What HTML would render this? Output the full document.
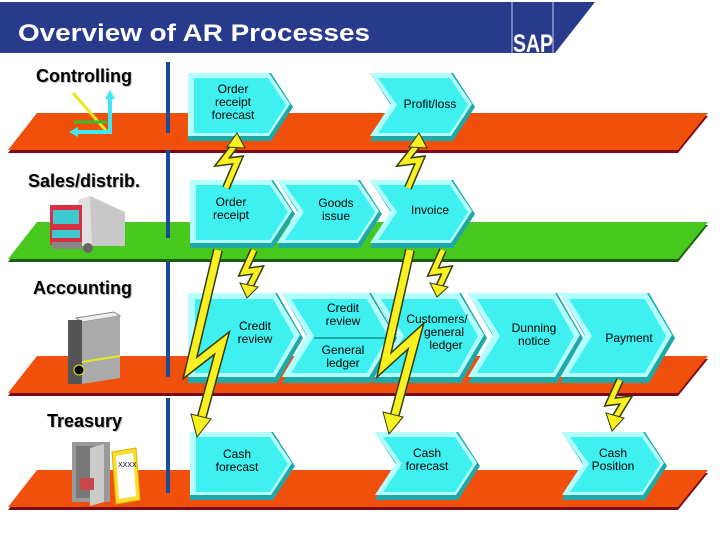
<!DOCTYPE html>
<html><head><meta charset="utf-8"><style>
html,body{margin:0;padding:0;background:#fff;width:720px;height:540px;overflow:hidden}
svg{display:block}
text{font-family:"Liberation Sans",Arial,sans-serif}
.t{font-size:12px;fill:#000;text-anchor:middle}
.lab{font-size:18px;font-weight:bold;fill:#000}
.ls{font-size:18px;font-weight:bold;fill:#bbb}
</style></head><body>
<svg width="720" height="540" viewBox="0 0 720 540" xmlns="http://www.w3.org/2000/svg">
<defs>
<g id="sN">
<polygon points="0,0 83,0 105,34 83,68 0,68 22,34" fill="#1fa8a8"/>
<polygon points="0,0 81,0 102,31 81,63 0,63 21,31" fill="#b4ffff"/>
<polygon points="8,5 80,5 98,32 80,60 8,60 27,32" fill="#3ef0f0"/>
</g>
<g id="sF">
<polygon points="0,0 83,0 105,34 83,68 0,68" fill="#1fa8a8"/>
<polygon points="0,0 81,0 102,31 81,63 0,63" fill="#b4ffff"/>
<polygon points="6,5 80,5 98,32 80,60 6,60" fill="#3ef0f0"/>
</g>
<g id="lN">
<polygon points="0,0 89,0 115,45 89,90 0,90 26,45" fill="#1fa8a8"/>
<polygon points="0,0 87,0 112,42 87,84 0,84 25,42" fill="#b4ffff"/>
<polygon points="9,6 85,6 106,43 85,80 9,80 32,43" fill="#3ef0f0"/>
</g>
<g id="lF">
<polygon points="0,0 89,0 115,45 89,90 0,90" fill="#1fa8a8"/>
<polygon points="0,0 87,0 112,42 87,84 0,84" fill="#b4ffff"/>
<polygon points="7,6 85,6 106,43 85,80 7,80" fill="#3ef0f0"/>
</g>
</defs>

<!-- header -->
<polygon points="0,2 595,2 555,53 0,53" fill="#283a8c"/>
<line x1="512" y1="2" x2="512" y2="53" stroke="#c8cce8" stroke-width="1"/>
<line x1="553" y1="2" x2="553" y2="53" stroke="#c8cce8" stroke-width="1"/>
<text x="513" y="52" font-size="25" font-weight="bold" fill="#fff" textLength="40" lengthAdjust="spacingAndGlyphs">SAP</text>
<text x="18" y="41" font-size="24" font-weight="bold" fill="#fff" textLength="352" lengthAdjust="spacingAndGlyphs">Overview of AR Processes</text>

<!-- bands -->
<polygon points="37,116 708,116 678,153 8,153" fill="#7a0a14"/>
<polygon points="37,113 708,113 678,150 8,150" fill="#f0500c"/>
<polygon points="37,225 708,225 678,262 8,262" fill="#1a6010"/>
<polygon points="37,222 708,222 678,259 8,259" fill="#48c81c"/>
<polygon points="37,359 708,359 678,396 8,396" fill="#7a0a14"/>
<polygon points="37,356 708,356 678,393 8,393" fill="#f0500c"/>
<polygon points="37,473 708,473 678,510 8,510" fill="#7a0a14"/>
<polygon points="37,470 708,470 678,507 8,507" fill="#f0500c"/>

<!-- vertical line -->
<g fill="#1a4a9a">
<rect x="166" y="62" width="4" height="71"/>
<rect x="166" y="150" width="4" height="88"/>
<rect x="166" y="262" width="4" height="115"/>
<rect x="166" y="398" width="4" height="95"/>
</g>

<!-- labels -->
<text class="ls" x="37" y="83">Controlling</text><text class="lab" x="36" y="82">Controlling</text>
<text class="ls" x="29" y="188">Sales/distrib.</text><text class="lab" x="28" y="187">Sales/distrib.</text>
<text class="ls" x="34" y="295">Accounting</text><text class="lab" x="33" y="294">Accounting</text>
<text class="ls" x="48" y="428">Treasury</text><text class="lab" x="47" y="427">Treasury</text>

<!-- controlling icon -->
<line x1="73" y1="93" x2="108" y2="133" stroke="#e8e820" stroke-width="3"/>
<line x1="74" y1="122" x2="107" y2="122" stroke="#30c030" stroke-width="3"/>
<polyline points="110,96 110,132 74,132" fill="none" stroke="#40e8f0" stroke-width="4"/>
<polygon points="105,99 110,90 115,99" fill="#40e8f0"/>
<polygon points="78,127 69,132 78,137" fill="#40e8f0"/>

<!-- truck -->
<polygon points="78,200 90,196 125,212 125,246 85,246" fill="#c8c8c8"/>
<polygon points="78,200 90,196 92,246 80,246" fill="#e0e0e0"/>
<rect x="50" y="205" width="32" height="40" fill="#d83040"/>
<rect x="53" y="210" width="26" height="14" fill="#40c8d0"/>
<rect x="52" y="230" width="28" height="8" fill="#40c8d0"/>
<rect x="52" y="242" width="30" height="7" fill="#888"/>
<circle cx="88" cy="248" r="5" fill="#666"/>

<!-- book -->
<polygon points="76,318 114,312 120,316 82,322" fill="#eee" stroke="#888" stroke-width="1"/>
<rect x="68" y="320" width="14" height="64" fill="#555"/>
<polygon points="82,322 120,316 120,378 82,384" fill="#aaa"/>
<line x1="82" y1="362" x2="120" y2="356" stroke="#e8e820" stroke-width="2"/>
<circle cx="79" cy="370" r="5" fill="#000" stroke="#e8e820" stroke-width="1"/>

<!-- safe -->
<rect x="72" y="442" width="38" height="60" fill="#999"/>
<rect x="76" y="446" width="22" height="52" fill="#777"/>
<polygon points="90,448 104,444 104,502 90,506" fill="#ccc"/>
<rect x="80" y="478" width="14" height="12" fill="#c84848"/>
<polygon points="112,452 136,448 140,500 116,504" fill="#f8e030" stroke="#e0b000" stroke-width="1"/>
<polygon points="116,456 133,453 136,496 119,499" fill="#fff"/>
<text x="118" y="467" font-size="7" fill="#000">XXXX</text>

<!-- chevrons -->
<use href="#sF" x="188" y="73"/>
<use href="#sN" x="370" y="73"/>
<use href="#sF" x="190" y="180"/>
<use href="#sN" x="277" y="180"/>
<use href="#sN" x="370" y="180"/>
<use href="#lN" x="560" y="293"/>
<use href="#lN" x="468" y="293"/>
<use href="#lN" x="372" y="293"/>
<use href="#lN" x="282" y="293"/>
<use href="#lF" x="188" y="293"/>
<line x1="314" y1="338" x2="390" y2="338" stroke="#1fa8a8" stroke-width="2"/>
<use href="#sF" x="190" y="432"/>
<use href="#sN" x="375" y="432"/>
<use href="#sN" x="562" y="432"/>

<!-- chevron text -->
<text class="t" x="233" y="93">Order</text><text class="t" x="233" y="106">receipt</text><text class="t" x="233" y="119">forecast</text>
<text class="t" x="430" y="108">Profit/loss</text>
<text class="t" x="231" y="206">Order</text><text class="t" x="231" y="219">receipt</text>
<text class="t" x="336" y="207">Goods</text><text class="t" x="336" y="220">issue</text>
<text class="t" x="430" y="214">Invoice</text>
<text class="t" x="255" y="330">Credit</text><text class="t" x="255" y="343">review</text>
<text class="t" x="343" y="312">Credit</text><text class="t" x="343" y="325">review</text>
<text class="t" x="343" y="354">General</text><text class="t" x="343" y="367">ledger</text>
<text class="t" x="437" y="323">Customers/</text><text class="t" x="444" y="336">general</text><text class="t" x="446" y="349">ledger</text>
<text class="t" x="534" y="332">Dunning</text><text class="t" x="534" y="345">notice</text>
<text class="t" x="629" y="342">Payment</text>
<text class="t" x="237" y="458">Cash</text><text class="t" x="237" y="471">forecast</text>
<text class="t" x="427" y="457">Cash</text><text class="t" x="427" y="470">forecast</text>
<text class="t" x="613" y="457">Cash</text><text class="t" x="613" y="470">Position</text>

<!-- lightning bolts -->
<g fill="none" stroke-linejoin="miter">
<g stroke="#3a3a10" stroke-width="8">
<path d="M226,188 L238,160 L222,162 L236,144"/>
<path d="M408,188 L420,160 L404,162 L418,144"/>
<path d="M254,250 L244,272 L258,270 L249,288"/>
<path d="M443,250 L433,272 L447,270 L439,287"/>
<path d="M620,380 L610,402 L626,400 L615,418"/>
</g>
<g stroke="#3a3a10" stroke-width="10">
<path d="M218,250 L190,368 L222,343 L201,420"/>
<path d="M410,250 L384,365 L416,336 L394,418"/>
</g>
<g stroke="#f8f020" stroke-width="5">
<path d="M226,188 L238,160 L222,162 L236,144"/>
<path d="M408,188 L420,160 L404,162 L418,144"/>
<path d="M254,250 L244,272 L258,270 L249,288"/>
<path d="M443,250 L433,272 L447,270 L439,287"/>
<path d="M620,380 L610,402 L626,400 L615,418"/>
</g>
<g stroke="#f8f020" stroke-width="7">
<path d="M218,250 L190,368 L222,343 L201,420"/>
<path d="M410,250 L384,365 L416,336 L394,418"/>
</g>
</g>
<g fill="#f8f020" stroke="#3a3a10" stroke-width="1">
<polygon points="227,147 245,148 237,133"/>
<polygon points="409,147 427,148 419,133"/>
<polygon points="240,283 258,287 247,298"/>
<polygon points="430,283 448,287 437,297"/>
<polygon points="606,413 624,418 612,431"/>
<polygon points="191,414 211,419 197,437"/>
<polygon points="383,412 403,417 389,434"/>
</g>
</svg>
</body></html>
